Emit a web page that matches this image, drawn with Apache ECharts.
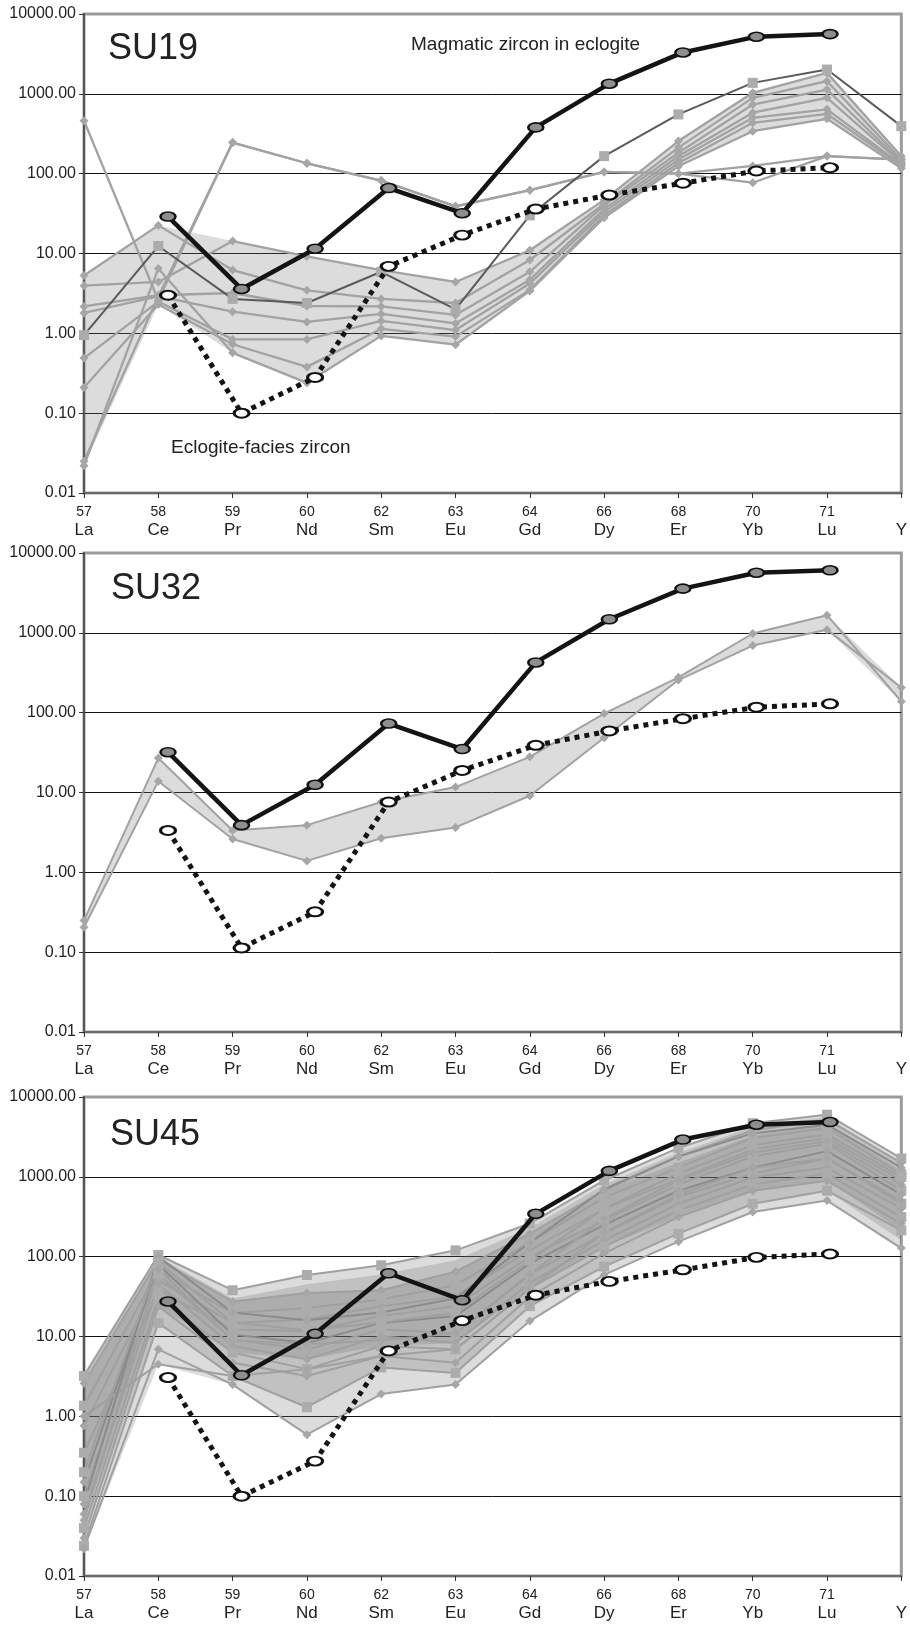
<!DOCTYPE html>
<html>
<head>
<meta charset="utf-8">
<script src="https://cdn.jsdelivr.net/npm/echarts@6/dist/echarts.min.js"></script>
<style>
  html, body { margin: 0; padding: 0; background: #fff; }
  #chart { width: 910px; height: 1629px; }
</style>
</head>
<body>
<div id="chart"></div>
<script>
// ---- categories ----
const elements = ['La', 'Ce', 'Pr', 'Nd', 'Sm', 'Eu', 'Gd', 'Dy', 'Er', 'Yb', 'Lu', 'Y'];
const atomicNumbers = ['57', '58', '59', '60', '62', '63', '64', '66', '68', '70', '71', ' '];
const refElements = ['Ce', 'Pr', 'Nd', 'Sm', 'Eu', 'Gd', 'Dy', 'Er', 'Yb', 'Lu'];
const yRange = [0.01, 10000];

// ---- SU19 ----
const su19BandHi = [5.3, 22.5, 14.3, 9.2, 6.2, 4.4, 11, 47, 256, 1030, 1830, 165];
const su19BandLo = [0.022, 2.3, 0.57, 0.24, 0.93, 0.72, 3.4, 28, 124, 340, 487, 117];
const su19A = [5.3, 22.5, 6.2, 3.46, 2.7, 2.4, 8.3, 42, 212, 890, 1440, 150];
const su19B = [3.95, 4.4, 14.3, 9.2, 6.2, 4.4, 11, 47, 256, 1030, 1830, 165];
const su19C = [2.17, 3.0, 3.2, 2.2, 2.17, 1.7, 5.9, 40, 183, 735, 1130, 140];
const su19D = [1.8, 2.9, 1.87, 1.39, 1.75, 1.33, 4.7, 36, 165, 580, 890, 136];
const su19E = [0.49, 2.5, 0.84, 0.84, 1.43, 1.1, 4.2, 33, 150, 500, 640, 130];
const su19F = [0.21, 2.3, 0.73, 0.38, 1.14, 0.91, 3.5, 30, 136, 434, 560, 125];
const su19G = [0.022, 6.5, 0.57, 0.24, 0.93, 0.72, 3.4, 28, 124, 340, 487, 117];
const su19H = [460, 2.6, 245, 135, 82, 39, 62, 105, 100, 125, 166, 150];
const su19I = [0.025, 2.9, 245, 135, 82, 39, 62, 105, 100, 77, 166, 150];
const su19Dark = [0.95, 12.4, 2.7, 2.4, 5.9, 2.0, 30, 166, 552, 1372, 2015, 394];
const su19Magmatic = [29, 3.6, 11.5, 66, 32, 380, 1340, 3300, 5200, 5600];
const su19Facies = [3.0, 0.10, 0.28, 6.9, 17, 36, 54, 76, 108, 119];

// ---- SU32 ----
const su32BandHi = [0.25, 27, 3.35, 3.9, 7.6, 11.7, 28, 97.5, 277, 981, 1663, 206];
const su32BandLo = [0.205, 13.8, 2.62, 1.39, 2.67, 3.65, 9.1, 48.5, 256, 692, 1096, 138];
const su32Upper = [0.25, 27, 3.35, 3.9, 7.6, 11.7, 28, 97.5, 277, 981, 1663, 138];
const su32Lower = [0.205, 13.8, 2.62, 1.39, 2.67, 3.65, 9.1, 48.5, 256, 692, 1096, 206];
const su32Magmatic = [32, 3.9, 12.5, 73, 35, 426, 1480, 3580, 5660, 6070];
const su32Facies = [3.35, 0.113, 0.32, 7.6, 18.9, 39, 59, 84, 117, 129];

// ---- SU45 ----
const su45BandOuterHi = [3.5, 110, 38, 59, 80, 120, 270, 935, 2310, 4720, 6200, 1740];
const su45BandOuterLo = [0.022, 4.5, 2.5, 0.59, 1.9, 2.5, 15.6, 59, 154, 363, 504, 120];
const su45BandMidHi = [3.2, 100, 30, 45, 60, 90, 230, 800, 2000, 4200, 5600, 1500];
const su45BandMidLo = [0.03, 14.8, 3.2, 1.3, 4.1, 3.5, 24, 75, 194, 460, 670, 160];
const su45BandCoreHi = [2.6, 91, 27.5, 35, 38, 65, 194, 670, 1500, 3300, 4500, 1200];
const su45BandCoreLo = [0.05, 24, 6.3, 5.2, 7.6, 8.3, 40, 133, 313, 670, 890, 214];
const su45S1 = [3.2, 105, 38, 59, 78, 120, 260, 900, 2300, 4700, 6000, 1700];
const su45S2 = [2.6, 91, 27.5, 35, 38, 65, 194, 670, 1800, 3800, 5200, 1500];
const su45S3 = [1.36, 68, 19.6, 22.7, 29, 44, 150, 550, 1305, 3070, 4090, 1080];
const su45S4 = [0.76, 51, 14.8, 16.3, 24, 31.8, 121, 397, 935, 2200, 3070, 900];
const su45S5 = [0.35, 38, 12.2, 11.6, 18, 24, 100, 285, 800, 1800, 2600, 670];
const su45S6 = [0.15, 80, 10.6, 8.3, 14.8, 18, 82, 250, 670, 1305, 2100, 600];
const su45S7 = [0.1, 60, 9.2, 6.9, 12.2, 11, 60, 194, 560, 1100, 1700, 460];
const su45S8 = [0.06, 45, 7.6, 5.2, 10.1, 8.3, 47, 160, 460, 980, 1305, 400];
const su45S9 = [0.04, 30, 6.3, 3.9, 7.6, 6.9, 40, 133, 380, 800, 1100, 313];
const su45S10 = [0.03, 24, 4.7, 3.2, 5.7, 4.7, 31.5, 110, 313, 670, 890, 260];
const su45S11 = [0.024, 14.8, 3.2, 1.3, 4.1, 3.5, 24, 75, 194, 460, 670, 214];
const su45S12 = [0.022, 6.9, 2.5, 0.59, 1.9, 2.5, 15.6, 59, 154, 363, 504, 128];
const su45S13 = [1.0, 4.5, 3.2, 3.9, 5.7, 6.9, 40, 200, 600, 1300, 1700, 500];
const su45S14 = [0.08, 100, 20, 16, 20, 30, 150, 700, 1800, 3500, 4500, 1300];
const su45S15 = [0.2, 85, 15, 12, 15, 20, 90, 400, 1100, 2500, 3400, 1000];
const su45S16 = [0.05, 70, 9, 8, 9, 11, 60, 300, 900, 2000, 2800, 800];
const su45Magmatic = [27.5, 3.27, 10.8, 62, 28.5, 344, 1187, 2930, 4500, 4850];
const su45Facies = [3.06, 0.10, 0.275, 6.6, 15.8, 32.9, 49, 68.4, 98, 108];

// ---- layout ----
const FONT = "'Liberation Sans', Arial, sans-serif";
const panelTops = [14, 553, 1097];
const plotHeight = 479;

const grids = [], xAxes = [], yAxes = [], series = [];

panelTops.forEach((top, p) => {
  // main grid: sample patterns on the element axis
  grids.push({ left: 84, right: 6, top: top, height: plotHeight, show: true,
    borderColor: '#9b9b9b', borderWidth: 3, backgroundColor: 'transparent' });
  // secondary grid: reference patterns on their own Ce..Lu axis
  grids.push({ left: 168, right: 80, top: top, height: plotHeight });

  xAxes.push({
    gridIndex: 2 * p, type: 'category', data: elements, boundaryGap: false,
    axisLine: { lineStyle: { color: '#6a6a6a', width: 2 } },
    axisTick: { show: true, interval: 0, length: 5, lineStyle: { color: '#333' } },
    axisLabel: {
      interval: 0, margin: 11,
      formatter: (v, i) => '{n|' + atomicNumbers[i] + '}\n{e|' + v + '}',
      rich: {
        n: { fontFamily: FONT, fontSize: 14, color: '#222', lineHeight: 17 },
        e: { fontFamily: FONT, fontSize: 17, color: '#222', lineHeight: 19 }
      }
    },
    splitLine: { show: false }
  });
  xAxes.push({ gridIndex: 2 * p + 1, type: 'category', data: refElements,
    boundaryGap: false, show: false });

  yAxes.push({
    gridIndex: 2 * p, type: 'log', logBase: 10, min: yRange[0], max: yRange[1], splitNumber: 6,
    axisLine: { show: true, lineStyle: { color: '#555', width: 2 } },
    axisTick: { show: true, length: 5, lineStyle: { color: '#333' } },
    axisLabel: { formatter: v => Number(v).toFixed(2), fontFamily: FONT, fontSize: 16,
      color: '#222', margin: 8 },
    splitLine: { show: true, showMinLine: false, showMaxLine: false,
      lineStyle: { color: '#111', width: 1 } }
  });
  yAxes.push({ gridIndex: 2 * p + 1, type: 'log', logBase: 10, min: yRange[0], max: yRange[1],
    show: false, splitLine: { show: false } });
});

// translucent envelope polygon between two patterns
function band(panel, hi, lo, fill) {
  return {
    type: 'custom', xAxisIndex: 2 * panel, yAxisIndex: 2 * panel, silent: true, z: 1,
    data: hi.map((v, i) => [i, v]),
    renderItem: (params, api) => {
      if (params.dataIndex !== 0) return null;
      const pts = [];
      hi.forEach((v, i) => pts.push(api.coord([i, v])));
      for (let i = lo.length - 1; i >= 0; i--) pts.push(api.coord([i, lo[i]]));
      return { type: 'polygon', shape: { points: pts }, style: { fill: fill } };
    }
  };
}

function sample(panel, values, opts = {}) {
  const square = opts.square;
  return {
    type: 'line', xAxisIndex: 2 * panel, yAxisIndex: 2 * panel, data: values,
    z: opts.z || 2, silent: true, animation: false,
    symbol: square ? 'rect' : 'diamond', symbolSize: square ? 10 : 9,
    itemStyle: { color: opts.marker || (square ? '#acacac' : '#a6a6a6') },
    lineStyle: { color: opts.line || '#a2a2a2', width: opts.width || 2.3 }
  };
}

function magmatic(panel, values) {
  return {
    type: 'line', xAxisIndex: 2 * panel + 1, yAxisIndex: 2 * panel + 1, data: values,
    z: 6, silent: true, animation: false,
    symbol: 'circle', symbolSize: [15, 9],
    itemStyle: { color: '#8e8e8e', borderColor: '#111', borderWidth: 2 },
    lineStyle: { color: '#141414', width: 4.5 }
  };
}

function facies(panel, values) {
  return {
    type: 'line', xAxisIndex: 2 * panel + 1, yAxisIndex: 2 * panel + 1, data: values,
    z: 5, silent: true, animation: false,
    symbol: 'circle', symbolSize: [15, 9],
    itemStyle: { color: '#ffffff', borderColor: '#111', borderWidth: 2.5 },
    lineStyle: { color: '#141414', width: 5, type: [5, 5], cap: 'butt' }
  };
}

const lightFill = 'rgba(120,120,120,0.26)';
const layerFill = 'rgba(110,110,110,0.24)';

// SU19
series.push(band(0, su19BandHi, su19BandLo, lightFill));
[su19A, su19B, su19C, su19D, su19E, su19F, su19G, su19H, su19I]
  .forEach(s => series.push(sample(0, s)));
series.push(sample(0, su19Dark, { square: true, line: '#5a5a5a', width: 2, z: 3 }));
series.push(facies(0, su19Facies));
series.push(magmatic(0, su19Magmatic));

// SU32
series.push(band(1, su32BandHi, su32BandLo, lightFill));
[su32Upper, su32Lower].forEach(s => series.push(sample(1, s, { width: 2 })));
series.push(facies(1, su32Facies));
series.push(magmatic(1, su32Magmatic));

// SU45
series.push(band(2, su45BandOuterHi, su45BandOuterLo, layerFill));
series.push(band(2, su45BandMidHi, su45BandMidLo, layerFill));
series.push(band(2, su45BandCoreHi, su45BandCoreLo, layerFill));
const su45Samples = [
  [su45S1, true], [su45S2, false], [su45S3, true], [su45S4, false],
  [su45S5, true], [su45S6, false, '#8c8c8c'], [su45S7, true], [su45S8, false],
  [su45S9, true], [su45S10, false], [su45S11, true], [su45S12, false],
  [su45S13, false], [su45S14, false, '#8c8c8c'], [su45S15, true], [su45S16, false]
];
su45Samples.forEach(([s, sq, c]) =>
  series.push(sample(2, s, { square: sq, line: c || '#a0a0a0', width: 2 })));
series.push(facies(2, su45Facies));
series.push(magmatic(2, su45Magmatic));

function label(x, y, text, size) {
  return { type: 'text', x: x, y: y, z: 100, silent: true,
    style: { text: text, fontFamily: FONT, fontSize: size, fill: '#222',
      align: 'left', verticalAlign: 'middle' } };
}

const option = {
  animation: false,
  backgroundColor: '#ffffff',
  grid: grids,
  xAxis: xAxes,
  yAxis: yAxes,
  series: series,
  graphic: [
    label(108, 49, 'SU19', 36),
    label(111, 589, 'SU32', 36),
    label(110, 1135, 'SU45', 36),
    label(411, 45, 'Magmatic zircon in eclogite', 19),
    label(171, 448, 'Eclogite-facies zircon', 19)
  ]
};

const chart = echarts.init(document.getElementById('chart'), null, { renderer: 'canvas' });
chart.setOption(option);
</script>
</body>
</html>
